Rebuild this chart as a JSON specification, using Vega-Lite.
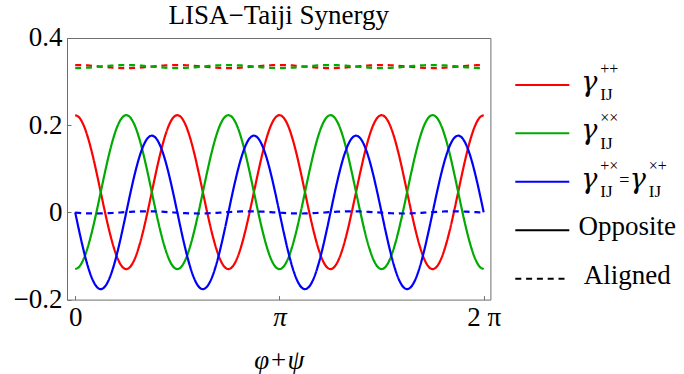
{
  "$schema": "https://vega.github.io/schema/vega-lite/v6.json",
  "background": "white",
  "padding": {"left": 12, "top": 1, "right": 0, "bottom": 0},
  "spacing": 24.3,
  "bounds": "flush",
  "config": {"font": "Liberation Serif"},
  "resolve": {"scale": {"x": "independent", "y": "independent", "color": "shared", "strokeDash": "shared"}},
  "datasets": {
    "curves": [
      {"t":0,"opp_pp":0.223,"opp_xx":-0.13,"opp_px":0,"ali_pp":0.338,"ali_xx":0.331,"ali_px":-0.0007},
      {"t":0.0654,"opp_pp":0.217,"opp_xx":-0.124,"opp_px":-0.0456,"ali_pp":0.3379,"ali_xx":0.3311,"ali_px":-0.0013},
      {"t":0.1309,"opp_pp":0.1994,"opp_xx":-0.1064,"opp_px":-0.088,"ali_pp":0.3375,"ali_xx":0.3315,"ali_px":-0.0018},
      {"t":0.1963,"opp_pp":0.1713,"opp_xx":-0.0783,"opp_px":-0.1245,"ali_pp":0.337,"ali_xx":0.332,"ali_px":-0.0022},
      {"t":0.2618,"opp_pp":0.1348,"opp_xx":-0.0418,"opp_px":-0.1524,"ali_pp":0.3363,"ali_xx":0.3327,"ali_px":-0.0024},
      {"t":0.3272,"opp_pp":0.0922,"opp_xx":0.0008,"opp_px":-0.17,"ali_pp":0.3354,"ali_xx":0.3336,"ali_px":-0.0025},
      {"t":0.3927,"opp_pp":0.0465,"opp_xx":0.0465,"opp_px":-0.176,"ali_pp":0.3345,"ali_xx":0.3345,"ali_px":-0.0024},
      {"t":0.4581,"opp_pp":0.0008,"opp_xx":0.0922,"opp_px":-0.17,"ali_pp":0.3336,"ali_xx":0.3354,"ali_px":-0.0021},
      {"t":0.5236,"opp_pp":-0.0418,"opp_xx":0.1348,"opp_px":-0.1524,"ali_pp":0.3328,"ali_xx":0.3362,"ali_px":-0.0017},
      {"t":0.589,"opp_pp":-0.0783,"opp_xx":0.1713,"opp_px":-0.1245,"ali_pp":0.332,"ali_xx":0.337,"ali_px":-0.0012},
      {"t":0.6545,"opp_pp":-0.1064,"opp_xx":0.1994,"opp_px":-0.088,"ali_pp":0.3315,"ali_xx":0.3375,"ali_px":-0.0006},
      {"t":0.7199,"opp_pp":-0.124,"opp_xx":0.217,"opp_px":-0.0456,"ali_pp":0.3311,"ali_xx":0.3379,"ali_px":0.0001},
      {"t":0.7854,"opp_pp":-0.13,"opp_xx":0.223,"opp_px":0,"ali_pp":0.331,"ali_xx":0.338,"ali_px":0.0007},
      {"t":0.8508,"opp_pp":-0.124,"opp_xx":0.217,"opp_px":0.0456,"ali_pp":0.3311,"ali_xx":0.3379,"ali_px":0.0013},
      {"t":0.9163,"opp_pp":-0.1064,"opp_xx":0.1994,"opp_px":0.088,"ali_pp":0.3315,"ali_xx":0.3375,"ali_px":0.0018},
      {"t":0.9817,"opp_pp":-0.0783,"opp_xx":0.1713,"opp_px":0.1245,"ali_pp":0.332,"ali_xx":0.337,"ali_px":0.0022},
      {"t":1.0472,"opp_pp":-0.0418,"opp_xx":0.1348,"opp_px":0.1524,"ali_pp":0.3328,"ali_xx":0.3362,"ali_px":0.0024},
      {"t":1.1126,"opp_pp":0.0008,"opp_xx":0.0922,"opp_px":0.17,"ali_pp":0.3336,"ali_xx":0.3354,"ali_px":0.0025},
      {"t":1.1781,"opp_pp":0.0465,"opp_xx":0.0465,"opp_px":0.176,"ali_pp":0.3345,"ali_xx":0.3345,"ali_px":0.0024},
      {"t":1.2435,"opp_pp":0.0922,"opp_xx":0.0008,"opp_px":0.17,"ali_pp":0.3354,"ali_xx":0.3336,"ali_px":0.0021},
      {"t":1.309,"opp_pp":0.1348,"opp_xx":-0.0418,"opp_px":0.1524,"ali_pp":0.3363,"ali_xx":0.3327,"ali_px":0.0017},
      {"t":1.3744,"opp_pp":0.1713,"opp_xx":-0.0783,"opp_px":0.1245,"ali_pp":0.337,"ali_xx":0.332,"ali_px":0.0012},
      {"t":1.4399,"opp_pp":0.1994,"opp_xx":-0.1064,"opp_px":0.088,"ali_pp":0.3375,"ali_xx":0.3315,"ali_px":0.0006},
      {"t":1.5053,"opp_pp":0.217,"opp_xx":-0.124,"opp_px":0.0456,"ali_pp":0.3379,"ali_xx":0.3311,"ali_px":-0.0001},
      {"t":1.5708,"opp_pp":0.223,"opp_xx":-0.13,"opp_px":0,"ali_pp":0.338,"ali_xx":0.331,"ali_px":-0.0007},
      {"t":1.6362,"opp_pp":0.217,"opp_xx":-0.124,"opp_px":-0.0456,"ali_pp":0.3379,"ali_xx":0.3311,"ali_px":-0.0013},
      {"t":1.7017,"opp_pp":0.1994,"opp_xx":-0.1064,"opp_px":-0.088,"ali_pp":0.3375,"ali_xx":0.3315,"ali_px":-0.0018},
      {"t":1.7671,"opp_pp":0.1713,"opp_xx":-0.0783,"opp_px":-0.1245,"ali_pp":0.337,"ali_xx":0.332,"ali_px":-0.0022},
      {"t":1.8326,"opp_pp":0.1348,"opp_xx":-0.0418,"opp_px":-0.1524,"ali_pp":0.3363,"ali_xx":0.3327,"ali_px":-0.0024},
      {"t":1.898,"opp_pp":0.0922,"opp_xx":0.0008,"opp_px":-0.17,"ali_pp":0.3354,"ali_xx":0.3336,"ali_px":-0.0025},
      {"t":1.9635,"opp_pp":0.0465,"opp_xx":0.0465,"opp_px":-0.176,"ali_pp":0.3345,"ali_xx":0.3345,"ali_px":-0.0024},
      {"t":2.0289,"opp_pp":0.0008,"opp_xx":0.0922,"opp_px":-0.17,"ali_pp":0.3336,"ali_xx":0.3354,"ali_px":-0.0021},
      {"t":2.0944,"opp_pp":-0.0418,"opp_xx":0.1348,"opp_px":-0.1524,"ali_pp":0.3328,"ali_xx":0.3362,"ali_px":-0.0017},
      {"t":2.1598,"opp_pp":-0.0783,"opp_xx":0.1713,"opp_px":-0.1245,"ali_pp":0.332,"ali_xx":0.337,"ali_px":-0.0012},
      {"t":2.2253,"opp_pp":-0.1064,"opp_xx":0.1994,"opp_px":-0.088,"ali_pp":0.3315,"ali_xx":0.3375,"ali_px":-0.0006},
      {"t":2.2907,"opp_pp":-0.124,"opp_xx":0.217,"opp_px":-0.0456,"ali_pp":0.3311,"ali_xx":0.3379,"ali_px":0.0001},
      {"t":2.3562,"opp_pp":-0.13,"opp_xx":0.223,"opp_px":0,"ali_pp":0.331,"ali_xx":0.338,"ali_px":0.0007},
      {"t":2.4216,"opp_pp":-0.124,"opp_xx":0.217,"opp_px":0.0456,"ali_pp":0.3311,"ali_xx":0.3379,"ali_px":0.0013},
      {"t":2.4871,"opp_pp":-0.1064,"opp_xx":0.1994,"opp_px":0.088,"ali_pp":0.3315,"ali_xx":0.3375,"ali_px":0.0018},
      {"t":2.5525,"opp_pp":-0.0783,"opp_xx":0.1713,"opp_px":0.1245,"ali_pp":0.332,"ali_xx":0.337,"ali_px":0.0022},
      {"t":2.618,"opp_pp":-0.0418,"opp_xx":0.1348,"opp_px":0.1524,"ali_pp":0.3328,"ali_xx":0.3362,"ali_px":0.0024},
      {"t":2.6834,"opp_pp":0.0008,"opp_xx":0.0922,"opp_px":0.17,"ali_pp":0.3336,"ali_xx":0.3354,"ali_px":0.0025},
      {"t":2.7489,"opp_pp":0.0465,"opp_xx":0.0465,"opp_px":0.176,"ali_pp":0.3345,"ali_xx":0.3345,"ali_px":0.0024},
      {"t":2.8143,"opp_pp":0.0922,"opp_xx":0.0008,"opp_px":0.17,"ali_pp":0.3354,"ali_xx":0.3336,"ali_px":0.0021},
      {"t":2.8798,"opp_pp":0.1348,"opp_xx":-0.0418,"opp_px":0.1524,"ali_pp":0.3363,"ali_xx":0.3327,"ali_px":0.0017},
      {"t":2.9452,"opp_pp":0.1713,"opp_xx":-0.0783,"opp_px":0.1245,"ali_pp":0.337,"ali_xx":0.332,"ali_px":0.0012},
      {"t":3.0107,"opp_pp":0.1994,"opp_xx":-0.1064,"opp_px":0.088,"ali_pp":0.3375,"ali_xx":0.3315,"ali_px":0.0006},
      {"t":3.0761,"opp_pp":0.217,"opp_xx":-0.124,"opp_px":0.0456,"ali_pp":0.3379,"ali_xx":0.3311,"ali_px":-0.0001},
      {"t":3.1416,"opp_pp":0.223,"opp_xx":-0.13,"opp_px":0,"ali_pp":0.338,"ali_xx":0.331,"ali_px":-0.0007},
      {"t":3.207,"opp_pp":0.217,"opp_xx":-0.124,"opp_px":-0.0456,"ali_pp":0.3379,"ali_xx":0.3311,"ali_px":-0.0013},
      {"t":3.2725,"opp_pp":0.1994,"opp_xx":-0.1064,"opp_px":-0.088,"ali_pp":0.3375,"ali_xx":0.3315,"ali_px":-0.0018},
      {"t":3.3379,"opp_pp":0.1713,"opp_xx":-0.0783,"opp_px":-0.1245,"ali_pp":0.337,"ali_xx":0.332,"ali_px":-0.0022},
      {"t":3.4034,"opp_pp":0.1348,"opp_xx":-0.0418,"opp_px":-0.1524,"ali_pp":0.3363,"ali_xx":0.3327,"ali_px":-0.0024},
      {"t":3.4688,"opp_pp":0.0922,"opp_xx":0.0008,"opp_px":-0.17,"ali_pp":0.3354,"ali_xx":0.3336,"ali_px":-0.0025},
      {"t":3.5343,"opp_pp":0.0465,"opp_xx":0.0465,"opp_px":-0.176,"ali_pp":0.3345,"ali_xx":0.3345,"ali_px":-0.0024},
      {"t":3.5997,"opp_pp":0.0008,"opp_xx":0.0922,"opp_px":-0.17,"ali_pp":0.3336,"ali_xx":0.3354,"ali_px":-0.0021},
      {"t":3.6652,"opp_pp":-0.0418,"opp_xx":0.1348,"opp_px":-0.1524,"ali_pp":0.3328,"ali_xx":0.3362,"ali_px":-0.0017},
      {"t":3.7306,"opp_pp":-0.0783,"opp_xx":0.1713,"opp_px":-0.1245,"ali_pp":0.332,"ali_xx":0.337,"ali_px":-0.0012},
      {"t":3.7961,"opp_pp":-0.1064,"opp_xx":0.1994,"opp_px":-0.088,"ali_pp":0.3315,"ali_xx":0.3375,"ali_px":-0.0006},
      {"t":3.8615,"opp_pp":-0.124,"opp_xx":0.217,"opp_px":-0.0456,"ali_pp":0.3311,"ali_xx":0.3379,"ali_px":0.0001},
      {"t":3.927,"opp_pp":-0.13,"opp_xx":0.223,"opp_px":0,"ali_pp":0.331,"ali_xx":0.338,"ali_px":0.0007},
      {"t":3.9924,"opp_pp":-0.124,"opp_xx":0.217,"opp_px":0.0456,"ali_pp":0.3311,"ali_xx":0.3379,"ali_px":0.0013},
      {"t":4.0579,"opp_pp":-0.1064,"opp_xx":0.1994,"opp_px":0.088,"ali_pp":0.3315,"ali_xx":0.3375,"ali_px":0.0018},
      {"t":4.1233,"opp_pp":-0.0783,"opp_xx":0.1713,"opp_px":0.1245,"ali_pp":0.332,"ali_xx":0.337,"ali_px":0.0022},
      {"t":4.1888,"opp_pp":-0.0418,"opp_xx":0.1348,"opp_px":0.1524,"ali_pp":0.3328,"ali_xx":0.3362,"ali_px":0.0024},
      {"t":4.2542,"opp_pp":0.0008,"opp_xx":0.0922,"opp_px":0.17,"ali_pp":0.3336,"ali_xx":0.3354,"ali_px":0.0025},
      {"t":4.3197,"opp_pp":0.0465,"opp_xx":0.0465,"opp_px":0.176,"ali_pp":0.3345,"ali_xx":0.3345,"ali_px":0.0024},
      {"t":4.3851,"opp_pp":0.0922,"opp_xx":0.0008,"opp_px":0.17,"ali_pp":0.3354,"ali_xx":0.3336,"ali_px":0.0021},
      {"t":4.4506,"opp_pp":0.1348,"opp_xx":-0.0418,"opp_px":0.1524,"ali_pp":0.3363,"ali_xx":0.3327,"ali_px":0.0017},
      {"t":4.516,"opp_pp":0.1713,"opp_xx":-0.0783,"opp_px":0.1245,"ali_pp":0.337,"ali_xx":0.332,"ali_px":0.0012},
      {"t":4.5815,"opp_pp":0.1994,"opp_xx":-0.1064,"opp_px":0.088,"ali_pp":0.3375,"ali_xx":0.3315,"ali_px":0.0006},
      {"t":4.6469,"opp_pp":0.217,"opp_xx":-0.124,"opp_px":0.0456,"ali_pp":0.3379,"ali_xx":0.3311,"ali_px":-0.0001},
      {"t":4.7124,"opp_pp":0.223,"opp_xx":-0.13,"opp_px":0,"ali_pp":0.338,"ali_xx":0.331,"ali_px":-0.0007},
      {"t":4.7778,"opp_pp":0.217,"opp_xx":-0.124,"opp_px":-0.0456,"ali_pp":0.3379,"ali_xx":0.3311,"ali_px":-0.0013},
      {"t":4.8433,"opp_pp":0.1994,"opp_xx":-0.1064,"opp_px":-0.088,"ali_pp":0.3375,"ali_xx":0.3315,"ali_px":-0.0018},
      {"t":4.9087,"opp_pp":0.1713,"opp_xx":-0.0783,"opp_px":-0.1245,"ali_pp":0.337,"ali_xx":0.332,"ali_px":-0.0022},
      {"t":4.9742,"opp_pp":0.1348,"opp_xx":-0.0418,"opp_px":-0.1524,"ali_pp":0.3363,"ali_xx":0.3327,"ali_px":-0.0024},
      {"t":5.0396,"opp_pp":0.0922,"opp_xx":0.0008,"opp_px":-0.17,"ali_pp":0.3354,"ali_xx":0.3336,"ali_px":-0.0025},
      {"t":5.1051,"opp_pp":0.0465,"opp_xx":0.0465,"opp_px":-0.176,"ali_pp":0.3345,"ali_xx":0.3345,"ali_px":-0.0024},
      {"t":5.1705,"opp_pp":0.0008,"opp_xx":0.0922,"opp_px":-0.17,"ali_pp":0.3336,"ali_xx":0.3354,"ali_px":-0.0021},
      {"t":5.236,"opp_pp":-0.0418,"opp_xx":0.1348,"opp_px":-0.1524,"ali_pp":0.3328,"ali_xx":0.3362,"ali_px":-0.0017},
      {"t":5.3014,"opp_pp":-0.0783,"opp_xx":0.1713,"opp_px":-0.1245,"ali_pp":0.332,"ali_xx":0.337,"ali_px":-0.0012},
      {"t":5.3669,"opp_pp":-0.1064,"opp_xx":0.1994,"opp_px":-0.088,"ali_pp":0.3315,"ali_xx":0.3375,"ali_px":-0.0006},
      {"t":5.4323,"opp_pp":-0.124,"opp_xx":0.217,"opp_px":-0.0456,"ali_pp":0.3311,"ali_xx":0.3379,"ali_px":0.0001},
      {"t":5.4978,"opp_pp":-0.13,"opp_xx":0.223,"opp_px":0,"ali_pp":0.331,"ali_xx":0.338,"ali_px":0.0007},
      {"t":5.5632,"opp_pp":-0.124,"opp_xx":0.217,"opp_px":0.0456,"ali_pp":0.3311,"ali_xx":0.3379,"ali_px":0.0013},
      {"t":5.6287,"opp_pp":-0.1064,"opp_xx":0.1994,"opp_px":0.088,"ali_pp":0.3315,"ali_xx":0.3375,"ali_px":0.0018},
      {"t":5.6941,"opp_pp":-0.0783,"opp_xx":0.1713,"opp_px":0.1245,"ali_pp":0.332,"ali_xx":0.337,"ali_px":0.0022},
      {"t":5.7596,"opp_pp":-0.0418,"opp_xx":0.1348,"opp_px":0.1524,"ali_pp":0.3328,"ali_xx":0.3362,"ali_px":0.0024},
      {"t":5.825,"opp_pp":0.0008,"opp_xx":0.0922,"opp_px":0.17,"ali_pp":0.3336,"ali_xx":0.3354,"ali_px":0.0025},
      {"t":5.8905,"opp_pp":0.0465,"opp_xx":0.0465,"opp_px":0.176,"ali_pp":0.3345,"ali_xx":0.3345,"ali_px":0.0024},
      {"t":5.9559,"opp_pp":0.0922,"opp_xx":0.0008,"opp_px":0.17,"ali_pp":0.3354,"ali_xx":0.3336,"ali_px":0.0021},
      {"t":6.0214,"opp_pp":0.1348,"opp_xx":-0.0418,"opp_px":0.1524,"ali_pp":0.3363,"ali_xx":0.3327,"ali_px":0.0017},
      {"t":6.0868,"opp_pp":0.1713,"opp_xx":-0.0783,"opp_px":0.1245,"ali_pp":0.337,"ali_xx":0.332,"ali_px":0.0012},
      {"t":6.1523,"opp_pp":0.1994,"opp_xx":-0.1064,"opp_px":0.088,"ali_pp":0.3375,"ali_xx":0.3315,"ali_px":0.0006},
      {"t":6.2177,"opp_pp":0.217,"opp_xx":-0.124,"opp_px":0.0456,"ali_pp":0.3379,"ali_xx":0.3311,"ali_px":-0.0001},
      {"t":6.2832,"opp_pp":0.223,"opp_xx":-0.13,"opp_px":0,"ali_pp":0.338,"ali_xx":0.331,"ali_px":-0.0007}
    ],
    "legend": [
      {"row": 1, "key": "opp_pp", "g": "γ", "sup": "++", "sub": "IJ"},
      {"row": 2, "key": "opp_xx", "g": "γ", "sup": "××", "sub": "IJ"},
      {"row": 3, "key": "opp_px", "g": "γ", "sup": "+×", "sub": "IJ", "eq": "=", "g2": "γ", "sup2": "×+", "sub2": "IJ"},
      {"row": 4, "key": "leg_opp", "name": "Opposite"},
      {"row": 5, "key": "leg_ali", "name": "Aligned"}
    ]
  },
  "hconcat": [
    {
      "width": 423.4,
      "height": 261.6,
      "view": {"stroke": "#6e6e6e", "strokeWidth": 1},
      "title": {"text": "LISA−Taiji Synergy", "font": "Liberation Serif", "fontSize": 27, "fontWeight": "normal", "color": "black", "anchor": "middle", "offset": -6.3},
      "data": {"name": "curves"},
      "transform": [{"fold": ["opp_pp", "opp_xx", "opp_px", "ali_pp", "ali_xx", "ali_px"], "as": ["key", "v"]}],
      "mark": {"type": "line", "strokeWidth": 2.2, "interpolate": "monotone", "clip": true},
      "encoding": {
        "x": {
          "field": "t", "type": "quantitative",
          "scale": {"domain": [-0.126, 6.386], "nice": false, "zero": false},
          "axis": {
            "values": [0, 3.14159265, 6.28318531],
            "labelExpr": "datum.value < 1 ? '0' : (datum.value < 4 ? 'π' : '2 π')",
            "labelFontStyle": {"condition": {"test": "datum.value > 1 && datum.value < 4", "value": "italic"}, "value": "normal"},
            "labelFont": "Liberation Serif", "labelFontSize": 27, "labelColor": "black",
            "labelPadding": 9, "labelFlush": false, "labelOverlap": false,
            "tickSize": -4, "tickColor": "#6e6e6e", "tickWidth": 1,
            "domain": false, "grid": false,
            "title": "φ+ψ", "titleFont": "Liberation Serif", "titleFontSize": 27, "titleFontStyle": "italic",
            "titleFontWeight": "normal", "titleColor": "black", "titlePadding": 17
          }
        },
        "y": {
          "field": "v", "type": "quantitative",
          "scale": {"domain": [-0.2, 0.4], "nice": false, "zero": false},
          "axis": {
            "values": [-0.2, 0, 0.2, 0.4],
            "format": ".1~f",
            "labelFont": "Liberation Serif", "labelFontSize": 27, "labelColor": "black",
            "labelPadding": 9, "labelFlush": false, "labelOverlap": false,
            "tickSize": -4, "tickColor": "#6e6e6e", "tickWidth": 1,
            "domain": false, "grid": false, "title": null
          }
        },
        "color": {
          "field": "key", "type": "nominal", "legend": null,
          "scale": {
            "domain": ["opp_pp", "opp_xx", "opp_px", "ali_pp", "ali_xx", "ali_px", "leg_opp", "leg_ali"],
            "range": ["#ff0000", "#00aa00", "#0000ff", "#ff0000", "#00aa00", "#0000ff", "#000000", "#000000"]
          }
        },
        "strokeDash": {
          "field": "key", "type": "nominal", "legend": null,
          "scale": {
            "domain": ["opp_pp", "opp_xx", "opp_px", "ali_pp", "ali_xx", "ali_px", "leg_opp", "leg_ali"],
            "range": [[1, 0], [1, 0], [1, 0], [6, 4.8], [6, 4.8], [6, 4.8], [1, 0], [6, 4.8]]
          }
        }
      }
    },
    {
      "width": 170,
      "height": 261.6,
      "view": {"stroke": null},
      "data": {"name": "legend"},
      "encoding": {
        "y": {"field": "row", "type": "quantitative", "scale": {"domain": [0.033, 5.429], "reverse": true, "nice": false, "zero": false}, "axis": null}
      },
      "layer": [
        {
          "mark": {"type": "rule", "strokeWidth": 2},
          "encoding": {
            "x": {"datum": 0, "type": "quantitative", "scale": {"domain": [0, 170], "nice": false, "zero": false}, "axis": null},
            "x2": {"datum": 54},
            "color": {
              "field": "key", "type": "nominal", "legend": null,
              "scale": {
                "domain": ["opp_pp", "opp_xx", "opp_px", "ali_pp", "ali_xx", "ali_px", "leg_opp", "leg_ali"],
                "range": ["#ff0000", "#00aa00", "#0000ff", "#ff0000", "#00aa00", "#0000ff", "#000000", "#000000"]
              }
            },
            "strokeDash": {
              "field": "key", "type": "nominal", "legend": null,
              "scale": {
                "domain": ["opp_pp", "opp_xx", "opp_px", "ali_pp", "ali_xx", "ali_px", "leg_opp", "leg_ali"],
                "range": [[1, 0], [1, 0], [1, 0], [6, 4.8], [6, 4.8], [6, 4.8], [1, 0], [6, 4.8]]
              }
            }
          }
        },
        {
          "transform": [{"filter": "isValid(datum.name)"}],
          "mark": {"type": "text", "align": "center", "baseline": "alphabetic", "dy": 5, "fontSize": 27, "font": "Liberation Serif", "color": "black"},
          "encoding": {"x": {"datum": 112, "type": "quantitative"}, "text": {"field": "name"}}
        },
        {
          "transform": [{"filter": "isValid(datum.g)"}],
          "mark": {"type": "text", "align": "left", "baseline": "alphabetic", "dy": 6, "fontSize": 27, "fontStyle": "italic", "font": "DejaVu Serif", "color": "black"},
          "encoding": {"x": {"datum": 66, "type": "quantitative"}, "text": {"field": "g"}}
        },
        {
          "transform": [{"filter": "isValid(datum.sup)"}],
          "mark": {"type": "text", "align": "left", "baseline": "alphabetic", "dy": -10.5, "fontSize": 16, "font": "Liberation Serif", "color": "black"},
          "encoding": {"x": {"datum": 85, "type": "quantitative"}, "text": {"field": "sup"}}
        },
        {
          "transform": [{"filter": "isValid(datum.sub)"}],
          "mark": {"type": "text", "align": "left", "baseline": "alphabetic", "dy": 15.4, "fontSize": 17, "font": "Liberation Serif", "color": "black"},
          "encoding": {"x": {"datum": 85, "type": "quantitative"}, "text": {"field": "sub"}}
        },
        {
          "transform": [{"filter": "isValid(datum.eq)"}],
          "mark": {"type": "text", "align": "left", "baseline": "alphabetic", "dy": 4, "fontSize": 18, "font": "Liberation Serif", "color": "black"},
          "encoding": {"x": {"datum": 104, "type": "quantitative"}, "text": {"field": "eq"}}
        },
        {
          "transform": [{"filter": "isValid(datum.g2)"}],
          "mark": {"type": "text", "align": "left", "baseline": "alphabetic", "dy": 6, "fontSize": 27, "fontStyle": "italic", "font": "DejaVu Serif", "color": "black"},
          "encoding": {"x": {"datum": 114.5, "type": "quantitative"}, "text": {"field": "g2"}}
        },
        {
          "transform": [{"filter": "isValid(datum.sup2)"}],
          "mark": {"type": "text", "align": "left", "baseline": "alphabetic", "dy": -10.5, "fontSize": 16, "font": "Liberation Serif", "color": "black"},
          "encoding": {"x": {"datum": 133.5, "type": "quantitative"}, "text": {"field": "sup2"}}
        },
        {
          "transform": [{"filter": "isValid(datum.sub2)"}],
          "mark": {"type": "text", "align": "left", "baseline": "alphabetic", "dy": 15.4, "fontSize": 17, "font": "Liberation Serif", "color": "black"},
          "encoding": {"x": {"datum": 133.5, "type": "quantitative"}, "text": {"field": "sub2"}}
        }
      ]
    }
  ]
}
